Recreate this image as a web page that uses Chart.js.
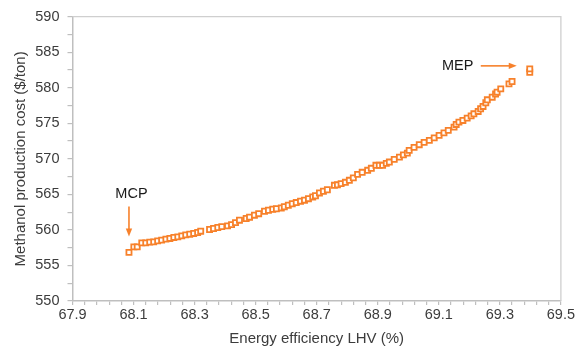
<!DOCTYPE html>
<html>
<head>
<meta charset="utf-8">
<script src="https://cdn.jsdelivr.net/npm/chart.js@4"></script>
<style>
  html, body { margin: 0; padding: 0; background: #fff; }
  canvas { display: block; }
</style>
</head>
<body>
<canvas id="costChart" width="576" height="349"></canvas>
<script>
// energy efficiency LHV (%) for each design point
const efficiency = [
  68.085, 68.101, 68.112, 68.127, 68.140, 68.153, 68.166, 68.179, 68.192, 68.206,
  68.219, 68.232, 68.245, 68.258, 68.271, 68.284, 68.297, 68.310, 68.320, 68.349,
  68.362, 68.376, 68.389, 68.408, 68.421, 68.434, 68.447, 68.469, 68.480, 68.496,
  68.510, 68.529, 68.542, 68.556, 68.568, 68.584, 68.594, 68.607, 68.620, 68.633,
  68.647, 68.660, 68.673, 68.687, 68.696, 68.709, 68.722, 68.735, 68.758, 68.768,
  68.780, 68.794, 68.807, 68.820, 68.834, 68.849, 68.867, 68.879, 68.894, 68.905,
  68.916, 68.928, 68.938, 68.954, 68.971, 68.984, 68.997, 69.003, 69.019, 69.036,
  69.052, 69.069, 69.085, 69.101, 69.117, 69.131, 69.150, 69.157, 69.166, 69.179,
  69.193, 69.206, 69.215, 69.229, 69.237, 69.245, 69.254, 69.259, 69.275, 69.286,
  69.291, 69.303, 69.330, 69.340, 69.398, 69.398
];
// methanol production cost ($/ton)
const cost = [
  556.84, 557.62, 557.62, 558.18, 558.18, 558.28, 558.32, 558.46, 558.56, 558.70,
  558.80, 558.94, 559.02, 559.16, 559.31, 559.40, 559.50, 559.64, 559.82, 560.06,
  560.20, 560.34, 560.46, 560.57, 560.74, 561.02, 561.37, 561.61, 561.79, 562.07,
  562.28, 562.63, 562.77, 562.91, 562.98, 563.09, 563.26, 563.47, 563.68, 563.85,
  564.04, 564.18, 564.39, 564.64, 564.81, 565.20, 565.44, 565.65, 566.28, 566.35,
  566.52, 566.70, 566.98, 567.33, 567.82, 568.11, 568.39, 568.67, 569.09, 569.09,
  569.09, 569.37, 569.55, 569.93, 570.25, 570.56, 570.81, 571.19, 571.61, 571.99,
  572.32, 572.60, 572.95, 573.30, 573.65, 574.00, 574.46, 574.84, 575.16, 575.40,
  575.73, 576.04, 576.34, 576.67, 577.05, 577.37, 577.89, 578.31, 578.67, 579.12,
  579.38, 579.85, 580.55, 580.88, 582.18, 582.66
];

const xTickLabels = [67.9, 68.1, 68.3, 68.5, 68.7, 68.9, 69.1, 69.3, 69.5];
const xMinorStep = 0.04;
const yTickLabels = [550, 555, 560, 565, 570, 575, 580, 585, 590];
const yMinorStep = 2.5;

const orange = '#F7812B';
const axisGrey = '#BFBFBF';
const textColor = '#3C3C3C';
const fontFamily = "'Liberation Sans', Arial, sans-serif";

const points = efficiency.map((x, i) => ({ x: x, y: cost[i] }));

function buildTicks(labels, step) {
    const lo = labels[0];
    const hi = labels[labels.length - 1];
    const n = Math.round((hi - lo) / step);
    const ticks = [];
    for (let i = 0; i <= n; i++) {
        ticks.push({ value: Math.round((lo + i * step) * 1000) / 1000 });
    }
    return ticks;
}

function isLabelled(labels, v) {
    return labels.some(l => Math.abs(l - v) < 1e-6);
}

function arrow(ctx, x1, y1, x2, y2) {
    const ang = Math.atan2(y2 - y1, x2 - x1);
    const head = 8;
    ctx.beginPath();
    ctx.moveTo(x1, y1);
    ctx.lineTo(x2 - Math.cos(ang) * head * 0.8, y2 - Math.sin(ang) * head * 0.8);
    ctx.stroke();
    ctx.beginPath();
    ctx.moveTo(x2, y2);
    ctx.lineTo(x2 - head * Math.cos(ang) + 3.2 * Math.sin(ang), y2 - head * Math.sin(ang) - 3.2 * Math.cos(ang));
    ctx.lineTo(x2 - head * Math.cos(ang) - 3.2 * Math.sin(ang), y2 - head * Math.sin(ang) + 3.2 * Math.cos(ang));
    ctx.closePath();
    ctx.fill();
}

// light frame round the plot area (top and right sides)
const framePlugin = {
    id: 'frame',
    beforeDatasetsDraw(chart) {
        const a = chart.chartArea;
        const ctx = chart.ctx;
        ctx.save();
        ctx.strokeStyle = '#CFCFCF';
        ctx.lineWidth = 1.3;
        ctx.beginPath();
        ctx.moveTo(a.left, a.top);
        ctx.lineTo(a.right, a.top);
        ctx.lineTo(a.right, a.bottom);
        ctx.stroke();
        ctx.restore();
    }
};

// MCP / MEP labels with arrows, placed from the end points
const notesPlugin = {
    id: 'notes',
    afterDatasetsDraw(chart) {
        const ctx = chart.ctx;
        const xs = chart.scales.x;
        const ys = chart.scales.y;
        const last = efficiency.length - 1;
        const mcpX = xs.getPixelForValue(efficiency[0]);
        const mcpY = ys.getPixelForValue(cost[0]);
        const mepX = xs.getPixelForValue(efficiency[last]);
        const mepY = ys.getPixelForValue(cost[last]);
        ctx.save();
        ctx.fillStyle = '#1a1a1a';
        ctx.font = '14.5px ' + fontFamily;
        ctx.textAlign = 'center';
        ctx.textBaseline = 'middle';
        ctx.fillText('MCP', mcpX + 2.5, mcpY - 58);
        ctx.fillText('MEP', mepX - 72, mepY - 3);
        ctx.strokeStyle = orange;
        ctx.fillStyle = orange;
        ctx.lineWidth = 1.6;
        arrow(ctx, mcpX, mcpY - 46, mcpX, mcpY - 16);
        arrow(ctx, mepX - 49, mepY - 3, mepX - 13, mepY - 3);
        ctx.restore();
    }
};

new Chart(document.getElementById('costChart').getContext('2d'), {
    type: 'scatter',
    data: {
        datasets: [{
            data: points,
            showLine: false,
            pointStyle: 'rect',
            pointRadius: 3.6,
            pointBorderWidth: 1.8,
            pointBorderColor: orange,
            pointBackgroundColor: '#ffffff'
        }]
    },
    options: {
        responsive: false,
        animation: false,
        layout: { padding: { top: 16, right: 14, bottom: 0, left: 0 } },
        plugins: {
            legend: { display: false },
            tooltip: { enabled: false }
        },
        scales: {
            x: {
                type: 'linear',
                min: xTickLabels[0],
                max: xTickLabels[xTickLabels.length - 1],
                afterBuildTicks: s => { s.ticks = buildTicks(xTickLabels, xMinorStep); },
                afterFit: s => { s.height = 48; },
                border: { display: true, color: axisGrey, width: 1.5 },
                grid: { drawOnChartArea: false, drawTicks: true, tickLength: 4, color: axisGrey, lineWidth: 1.2 },
                ticks: {
                    autoSkip: false,
                    maxRotation: 0,
                    padding: 1,
                    color: textColor,
                    font: { family: fontFamily, size: 14.5 },
                    callback: v => isLabelled(xTickLabels, v) ? v.toFixed(1) : ''
                },
                title: {
                    display: true,
                    text: 'Energy efficiency LHV (%)',
                    color: textColor,
                    font: { family: fontFamily, size: 15 },
                    padding: { top: 0, bottom: 1 }
                }
            },
            y: {
                type: 'linear',
                min: yTickLabels[0],
                max: yTickLabels[yTickLabels.length - 1],
                afterBuildTicks: s => { s.ticks = buildTicks(yTickLabels, yMinorStep); },
                afterFit: s => { s.width = 72.5; },
                border: { display: true, color: axisGrey, width: 1.5 },
                grid: { drawOnChartArea: false, drawTicks: true, tickLength: 5, color: axisGrey, lineWidth: 1.2 },
                ticks: {
                    autoSkip: false,
                    padding: 8,
                    color: textColor,
                    font: { family: fontFamily, size: 14.5 },
                    callback: v => isLabelled(yTickLabels, v) ? String(v) : ''
                },
                title: {
                    display: true,
                    text: 'Methanol production cost ($/ton)',
                    color: textColor,
                    font: { family: fontFamily, size: 15 },
                    padding: { top: 12, bottom: 0 }
                }
            }
        }
    },
    plugins: [framePlugin, notesPlugin]
});
</script>
</body>
</html>
